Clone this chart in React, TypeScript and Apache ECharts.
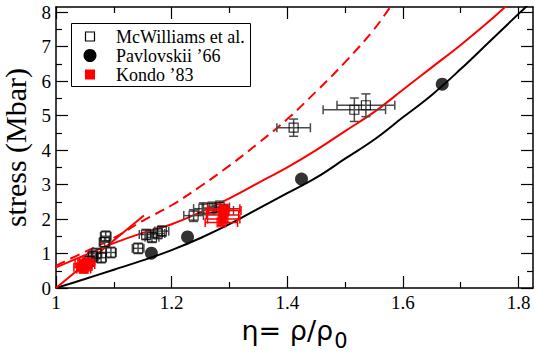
import React, { useEffect, useRef } from 'react';
import * as echarts from 'echarts';

// axis ticks
const xMajorTicks = [1, 1.2, 1.4, 1.6, 1.8];
const xMinorTicks = [1.1, 1.3, 1.5, 1.7];
const yMajorTicks = [0, 1, 2, 3, 4, 5, 6, 7, 8];
const yMinorTicks = [0.5, 1.5, 2.5, 3.5, 4.5, 5.5, 6.5, 7.5];

// curves [eta, stress]
const blackCurve = [
  [1.0, 0], [1.05, 0.26], [1.1, 0.53], [1.15, 0.8], [1.2, 1.1], [1.25, 1.45],
  [1.3, 1.85], [1.35, 2.3], [1.4, 2.75], [1.45, 3.2], [1.5, 3.75], [1.55, 4.3],
  [1.6, 4.95], [1.65, 5.6], [1.7, 6.35], [1.75, 7.15], [1.8, 7.95], [1.825, 8.35],
];
const redCurve = [
  [1.0, 0.6], [1.05, 0.95], [1.1, 1.3], [1.15, 1.6], [1.2, 1.85], [1.25, 2.2],
  [1.3, 2.6], [1.35, 3.05], [1.4, 3.5], [1.45, 4.0], [1.5, 4.55], [1.55, 5.1],
  [1.6, 5.75], [1.65, 6.4], [1.7, 7.05], [1.75, 7.75], [1.78, 8.2],
];
const redDashed = [
  [1.0, 0.65], [1.05, 1.05], [1.1, 1.45], [1.15, 1.95], [1.2, 2.4], [1.25, 2.95],
  [1.3, 3.55], [1.35, 4.2], [1.4, 4.9], [1.45, 5.7], [1.5, 6.55], [1.55, 7.5], [1.58, 8.2],
];
const redSteep = [[1.0, 0.0], [1.152, 2.1]];

// data [eta, stress, etaErr, stressErr]
const mcwilliams = [
  [1.058, 0.78, 0.009, 0.15], [1.064, 0.92, 0.009, 0.15], [1.07, 1.0, 0.009, 0.15],
  [1.078, 0.88, 0.009, 0.15], [1.084, 1.33, 0.009, 0.15], [1.086, 1.5, 0.009, 0.15],
  [1.095, 1.03, 0.009, 0.15], [1.142, 1.15, 0.01, 0.15], [1.156, 1.55, 0.012, 0.15],
  [1.166, 1.47, 0.012, 0.15], [1.176, 1.58, 0.012, 0.15], [1.183, 1.65, 0.012, 0.15],
  [1.238, 2.1, 0.017, 0.17], [1.255, 2.3, 0.017, 0.17], [1.27, 2.32, 0.017, 0.17],
  [1.283, 2.35, 0.017, 0.17], [1.29, 2.25, 0.017, 0.17],
  [1.411, 4.65, 0.029, 0.25], [1.516, 5.17, 0.054, 0.34], [1.536, 5.3, 0.05, 0.33],
];
const pavlovskii = [[1.165, 1.01], [1.2275, 1.48], [1.4246, 3.16], [1.668, 5.91]];
const kondo = [
  [1.043, 0.6, 0.012, 0.1], [1.045, 0.7, 0.012, 0.1], [1.05, 0.62, 0.012, 0.1],
  [1.053, 0.75, 0.012, 0.1], [1.048, 0.55, 0.012, 0.1], [1.055, 0.68, 0.012, 0.1],
  [1.286, 1.9, 0.028, 0.08], [1.29, 2.0, 0.028, 0.08], [1.288, 2.12, 0.028, 0.08],
  [1.292, 2.25, 0.028, 0.08], [1.29, 2.3, 0.028, 0.08],
];
const legendLabels = ['McWilliams et al.', 'Pavlovskii ’66', 'Kondo ’83'];

const SERIF = 'Liberation Serif';
const X_MIN = 1, X_MAX = 1.825, Y_MIN = 0, Y_MAX = 8.15;

function errorBars(color: string) {
  return (params: any, api: any) => {
    const x = api.value(0), y = api.value(1), ex = api.value(2), ey = api.value(3);
    const l = api.coord([x - ex, y]);
    const r = api.coord([x + ex, y]);
    const t = api.coord([x, y + ey]);
    const b = api.coord([x, y - ey]);
    const cap = 4.5;
    const style = { stroke: color, lineWidth: 1.5 };
    return {
      type: 'group',
      children: [
        { type: 'line', shape: { x1: l[0], y1: l[1], x2: r[0], y2: r[1] }, style },
        { type: 'line', shape: { x1: l[0], y1: l[1] - cap, x2: l[0], y2: l[1] + cap }, style },
        { type: 'line', shape: { x1: r[0], y1: r[1] - cap, x2: r[0], y2: r[1] + cap }, style },
        { type: 'line', shape: { x1: t[0], y1: t[1], x2: b[0], y2: b[1] }, style },
        { type: 'line', shape: { x1: t[0] - cap, y1: t[1], x2: t[0] + cap, y2: t[1] }, style },
        { type: 'line', shape: { x1: b[0] - cap, y1: b[1], x2: b[0] + cap, y2: b[1] }, style },
      ],
    };
  };
}

function xAxisDef(position: string, ticks: number[], len: number, labels: boolean, line: boolean) {
  return {
    type: 'value', min: X_MIN, max: X_MAX, interval: 0.2, position,
    axisLine: { show: line, onZero: false, lineStyle: { color: '#000', width: 1.5 } },
    axisTick: { show: true, inside: true, length: len, customValues: ticks, lineStyle: { color: '#000', width: 1.2 } },
    axisLabel: labels
      ? { show: true, customValues: xMajorTicks, margin: 5, color: '#000', fontFamily: SERIF, fontSize: 19 }
      : { show: false },
    splitLine: { show: false },
  };
}
function yAxisDef(position: string, ticks: number[], len: number, labels: boolean, line: boolean) {
  return {
    type: 'value', min: Y_MIN, max: Y_MAX, interval: 1, position,
    axisLine: { show: line, onZero: false, lineStyle: { color: '#000', width: 1.5 } },
    axisTick: { show: true, inside: true, length: len, customValues: ticks, lineStyle: { color: '#000', width: 1.2 } },
    axisLabel: labels
      ? { show: true, customValues: yMajorTicks, margin: 5, color: '#000', fontFamily: SERIF, fontSize: 19 }
      : { show: false },
    splitLine: { show: false },
  };
}

export default function App() {
  const ref = useRef<HTMLDivElement>(null);
  useEffect(() => {
    document.body.style.margin = '0';
    const chart = echarts.init(ref.current!, null, { renderer: 'svg' });
    const xb = xAxisDef('bottom', xMajorTicks, 12, true, true);
    (xb as any).name = '{a|η= ρ/ρ}{s|0}';
    (xb as any).nameLocation = 'middle';
    (xb as any).nameGap = 23;
    (xb as any).nameTextStyle = {
      rich: {
        a: { fontFamily: 'DejaVu Sans', fontSize: 27, color: '#000', lineHeight: 30 },
        s: { fontFamily: 'DejaVu Sans', fontSize: 21, color: '#000', verticalAlign: 'bottom', lineHeight: 10, padding: [0, 0, -6, 1] },
      },
    };
    const yl = yAxisDef('left', yMajorTicks, 12, true, true);
    (yl as any).name = 'stress (Mbar)';
    (yl as any).nameLocation = 'middle';
    (yl as any).nameGap = 21;
    (yl as any).nameTextStyle = { fontFamily: SERIF, fontSize: 30, color: '#000' };

    const legendY = [36.5, 55.5, 74.5];
    chart.setOption({
      animation: false,
      grid: { left: 56, right: 2, top: 7, bottom: 66, containLabel: false, outerBoundsMode: 'none' },
      xAxis: [
        xb,
        xAxisDef('bottom', xMinorTicks, 6, false, false),
        xAxisDef('top', xMajorTicks, 12, false, true),
        xAxisDef('top', xMinorTicks, 6, false, false),
      ],
      yAxis: [
        yl,
        yAxisDef('left', yMinorTicks, 6, false, false),
        yAxisDef('right', yMajorTicks, 12, false, true),
        yAxisDef('right', yMinorTicks, 6, false, false),
      ],
      series: [
        { type: 'line', data: blackCurve, showSymbol: false, smooth: 0.4, lineStyle: { color: '#000', width: 2 }, z: 2 },
        { type: 'line', data: redCurve, showSymbol: false, smooth: 0.4, lineStyle: { color: '#ff0000', width: 2 }, z: 2 },
        { type: 'line', data: redDashed, showSymbol: false, smooth: 0.4, lineStyle: { color: '#ff0000', width: 2, type: [10, 6] }, z: 2 },
        { type: 'line', data: redSteep, showSymbol: false, lineStyle: { color: '#ff0000', width: 2 }, z: 2 },
        { type: 'custom', data: mcwilliams, renderItem: errorBars('#4a4a4a'), z: 3 },
        { type: 'scatter', name: legendLabels[0], data: mcwilliams.map(d => [d[0], d[1]]), symbol: 'rect', symbolSize: 9, itemStyle: { color: 'rgba(0,0,0,0)', borderColor: '#000', borderWidth: 1.2 }, z: 4 },
        { type: 'custom', data: kondo, renderItem: errorBars('#ff0000'), z: 5 },
        { type: 'scatter', name: legendLabels[2], data: kondo.map(d => [d[0], d[1]]), symbol: 'rect', symbolSize: 10, itemStyle: { color: '#ff0000' }, z: 6 },
        { type: 'scatter', name: legendLabels[1], data: pavlovskii, symbol: 'circle', symbolSize: 13, itemStyle: { color: '#000' }, z: 7 },
      ],
      graphic: [
        {
          type: 'group', z: 100,
          children: [
            { type: 'rect', shape: { x: 71.5, y: 23.5, width: 179, height: 63 }, style: { fill: '#fff', stroke: '#000', lineWidth: 1 } },
            { type: 'rect', shape: { x: 85.5, y: legendY[0] - 4.5, width: 9, height: 9 }, style: { fill: '#fff', stroke: '#000', lineWidth: 1.2 } },
            { type: 'circle', shape: { cx: 90, cy: legendY[1], r: 6.5 }, style: { fill: '#000' } },
            { type: 'rect', shape: { x: 85, y: legendY[2] - 5, width: 10, height: 10 }, style: { fill: '#ff0000' } },
            ...legendLabels.map((t, i) => ({
              type: 'text', x: 116, y: legendY[i],
              style: { text: t, fill: '#000', fontFamily: SERIF, fontSize: 18, verticalAlign: 'middle' },
            })),
          ],
        },
      ],
    });
    return () => chart.dispose();
  }, []);
  return <div ref={ref} style={{ width: 535, height: 354 }} />;
}
